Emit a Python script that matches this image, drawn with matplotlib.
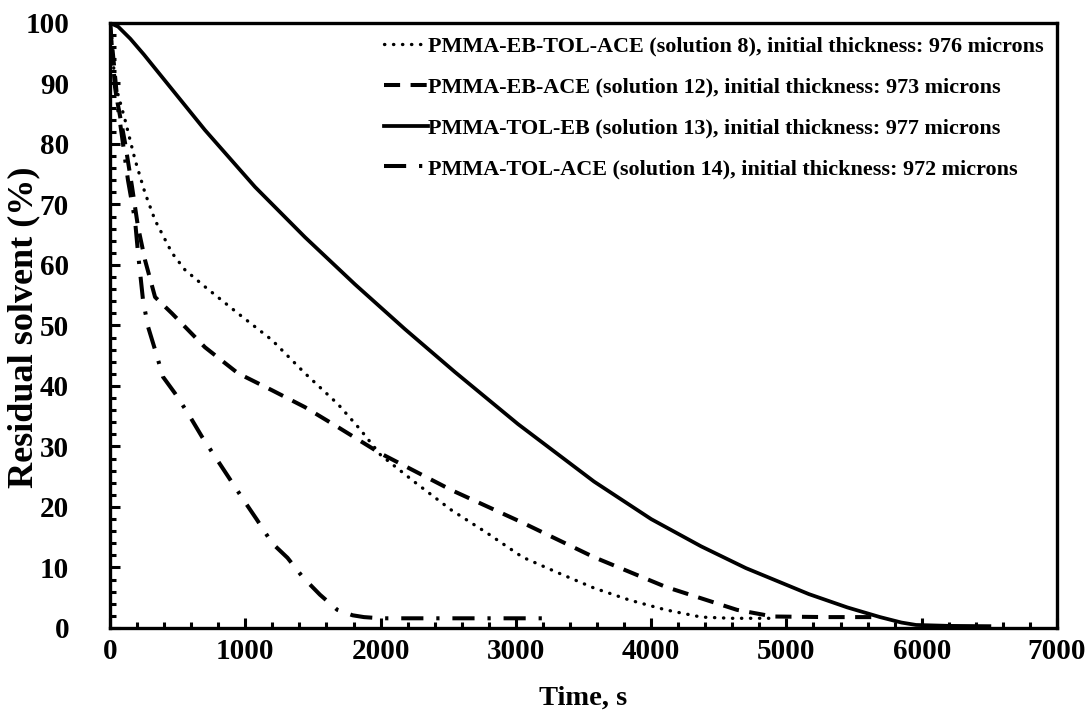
import matplotlib
matplotlib.use("Agg")
import matplotlib.pyplot as plt
from matplotlib.ticker import MultipleLocator

# ---- data ----
t8 = [0, 37, 111, 185, 259, 333, 458, 554, 702, 946, 1197, 1441, 1685, 1850, 2000, 2259, 2523, 2787,
      3050, 3314, 3578, 3842, 4107, 4371, 4600, 4930]
v8 = [100, 90, 84, 77.4, 71.9, 67.4, 62, 59.2, 56.4, 52, 47.6, 42.1, 37.0, 32.8, 28.6, 24.0, 19.5, 15.7,
      11.7, 9.1, 6.6, 4.6, 3.0, 1.8, 1.6, 1.6]

t12 = [0, 56, 111, 163, 207, 259, 333, 458, 702, 946, 1197, 1441, 1685, 1996, 2523, 3050, 3578, 4107,
       4634, 4900, 5300, 5690]
v12 = [100, 86.8, 80.2, 72.9, 66.3, 60.8, 54.7, 52, 46.4, 42.1, 39.3, 36.5, 33.2, 28.9, 22.8, 17.4, 11.7, 6.8,
       3.0, 1.9, 1.8, 1.8]

t13 = [0, 60, 150, 250, 333, 702, 1072, 1441, 1811, 2180, 2550, 3016, 3578, 4000, 4369, 4700, 5166,
       5450, 5692, 5850, 5958, 6200, 6500]
v13 = [100, 99.4, 97.4, 94.8, 92.5, 82.3, 72.9, 64.6, 56.8, 49.4, 42.3, 33.7, 24.2, 18.0, 13.5, 9.9, 5.6,
       3.4, 1.8, 0.9, 0.5, 0.35, 0.3]

t14 = [0, 37, 89, 133, 185, 207, 244, 281, 333, 392, 480, 576, 680, 1001, 1086, 1199, 1312, 1425, 1552,
       1680, 1793, 1877, 2000, 2600, 3220]
v14 = [100, 89.4, 81.2, 74, 67.4, 62, 54.2, 49.8, 46, 41.5, 38.8, 35.5, 31.6, 20.7, 17.9, 14.0, 11.6, 8.4, 5.5,
       3.0, 2.1, 1.8, 1.6, 1.6, 1.6]

labels = [
    "PMMA-EB-TOL-ACE (solution 8), initial thickness: 976 microns",
    "PMMA-EB-ACE (solution 12), initial thickness: 973 microns",
    "PMMA-TOL-EB (solution 13), initial thickness: 977 microns",
    "PMMA-TOL-ACE (solution 14), initial thickness: 972 microns",
]

plt.rcParams['font.family'] = ['Liberation Serif', 'DejaVu Serif']
plt.rcParams['font.weight'] = 'bold'

fig = plt.figure(figsize=(10.87, 7.12), dpi=100)
ax = fig.add_axes([0.1012, 0.118, 0.8712, 0.8497])

lw = 2.4
ax.plot(t8, v8, color='black', lw=lw, linestyle=(0, (0.1, 2.6)), dash_capstyle='round', label=labels[0])
ax.plot(t12, v12, color='black', lw=lw + 0.5, linestyle=(0, (4, 2.6)), label=labels[1])
ax.plot(t13, v13, color='black', lw=lw + 0.3, linestyle='-', label=labels[2])
ax.plot(t14, v14, color='black', lw=lw + 0.5, linestyle=(0, (5.5, 3.2, 0.8, 3.2)), label=labels[3])

ax.set_xlim(0, 7000)
ax.set_ylim(0, 100)
ax.xaxis.set_major_locator(MultipleLocator(1000))
ax.xaxis.set_minor_locator(MultipleLocator(200))
ax.yaxis.set_major_locator(MultipleLocator(10))
ax.yaxis.set_minor_locator(MultipleLocator(2))
ax.tick_params(which='both', direction='in', width=2.2, labelsize=21)
ax.tick_params(which='major', length=7)
ax.tick_params(which='minor', length=4.5)
ax.tick_params(axis='x', pad=7)
ax.tick_params(axis='y', pad=29.5)
for lab in ax.get_xticklabels() + ax.get_yticklabels():
    lab.set_fontweight('bold')
for s in ax.spines.values():
    s.set_linewidth(2.4)

ax.set_xlabel("Time, s", fontsize=20.5, fontweight='bold')
ax.set_ylabel("Residual solvent (%)", fontsize=26, fontweight='bold')
ax.xaxis.set_label_coords(0.4995, -0.095)
ax.yaxis.set_label_coords(-0.0739, 0.4975)

leg = ax.legend(loc='upper right', frameon=False, handlelength=2.0,
                handletextpad=0.0, labelspacing=0.92, borderaxespad=0.2,
                prop={'weight': 'bold', 'size': 15.9})

fig.savefig("out.png", dpi=100)
